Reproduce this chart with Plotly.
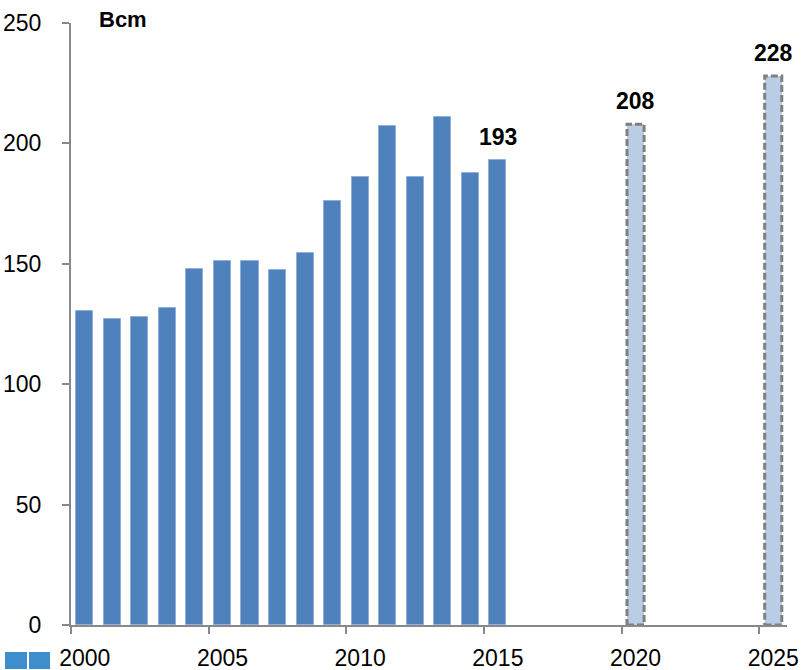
import plotly.graph_objects as go

# ---- data ----
years_hist = list(range(2000, 2016))
values_hist = [130.4, 127.1, 127.9, 131.8, 148.0, 151.2, 151.2, 147.3, 154.4,
               176.1, 186.0, 207.2, 186.0, 211.0, 187.7, 193.1]
years_proj = [2020, 2025]
values_proj = [208, 228]
labelled_years = [2015, 2020, 2025]
labelled_text = ["193", "208", "228"]
tick_years = [2000, 2005, 2010, 2015, 2020, 2025]
y_ticks = [0, 50, 100, 150, 200, 250]
unit_label = "Bcm"

BAR_W = 0.62
FONT = "Liberation Sans, Arial, sans-serif"

fig = go.Figure()
fig.add_trace(go.Bar(x=years_hist, y=values_hist, width=BAR_W,
                     marker=dict(color="#4F81BD", line=dict(color="#8FB0DA", width=1)),
                     showlegend=False, hoverinfo="x+y"))
fig.add_trace(go.Bar(x=years_proj, y=values_proj, width=BAR_W,
                     marker=dict(color="#B9CDE5", line=dict(width=0)),
                     showlegend=False, hoverinfo="x+y"))

# dashed outlines of projected bars
for yr, v in zip(years_proj, values_proj):
    fig.add_shape(type="rect", xref="x", yref="y",
                  x0=yr - BAR_W / 2, x1=yr + BAR_W / 2, y0=0, y1=v,
                  line=dict(color="#7F7F7F", width=3, dash="7px,3px"),
                  fillcolor="rgba(0,0,0,0)", layer="above")

# value labels
all_years = years_hist + years_proj
all_vals = values_hist + values_proj
for yr, txt in zip(labelled_years, labelled_text):
    v = all_vals[all_years.index(yr)]
    fig.add_annotation(x=yr, y=v, text=f"<b>{txt}</b>", showarrow=False,
                       xanchor="center", yanchor="bottom", yshift=8,
                       font=dict(family=FONT, size=23, color="black"))

fig.add_annotation(xref="paper", yref="paper", x=0.0363, y=1.005, text=f"<b>{unit_label}</b>",
                   showarrow=False, xanchor="left", yanchor="middle",
                   font=dict(family=FONT, size=22, color="black"))

# legend-like swatches at the bottom left (clipped legend)
for x0p, x1p in [(5, 27), (29, 50)]:
    fig.add_shape(type="rect", xref="paper", yref="paper",
                  x0=(x0p - 71) / 716, x1=(x1p - 71) / 716,
                  y0=(625 - 669) / 602, y1=(625 - 652) / 602,
                  line=dict(width=0), fillcolor="#3E8ECE")

fig.update_layout(
    width=808, height=670,
    margin=dict(l=71, r=21, t=23, b=45),
    paper_bgcolor="white", plot_bgcolor="white",
    bargap=0, showlegend=False,
    font=dict(family=FONT, size=23, color="black"),
    xaxis=dict(range=[1999.5, 2025.5], tickmode="array", tickvals=tick_years,
               ticktext=[str(t) for t in tick_years], ticks="",
               showline=True, linecolor="#898989", linewidth=2,
               showgrid=False, zeroline=False, ticklabelstandoff=11,
               automargin=False,
               tickfont=dict(family=FONT, size=23, color="black"),
               minor=dict(tickmode="array", tickvals=[t - 0.5 for t in tick_years],
                          ticks="outside", ticklen=7, tickcolor="#898989", tickwidth=2,
                          showgrid=False)),
    yaxis=dict(range=[0, 250], tickmode="array", tickvals=y_ticks,
               ticks="outside", ticklen=7, tickcolor="#898989", tickwidth=2,
               showline=True, linecolor="#898989", linewidth=2,
               showgrid=False, zeroline=False, ticklabelstandoff=16,
               automargin=False,
               tickfont=dict(family=FONT, size=23, color="black")),
)

fig.write_html("out.html")
